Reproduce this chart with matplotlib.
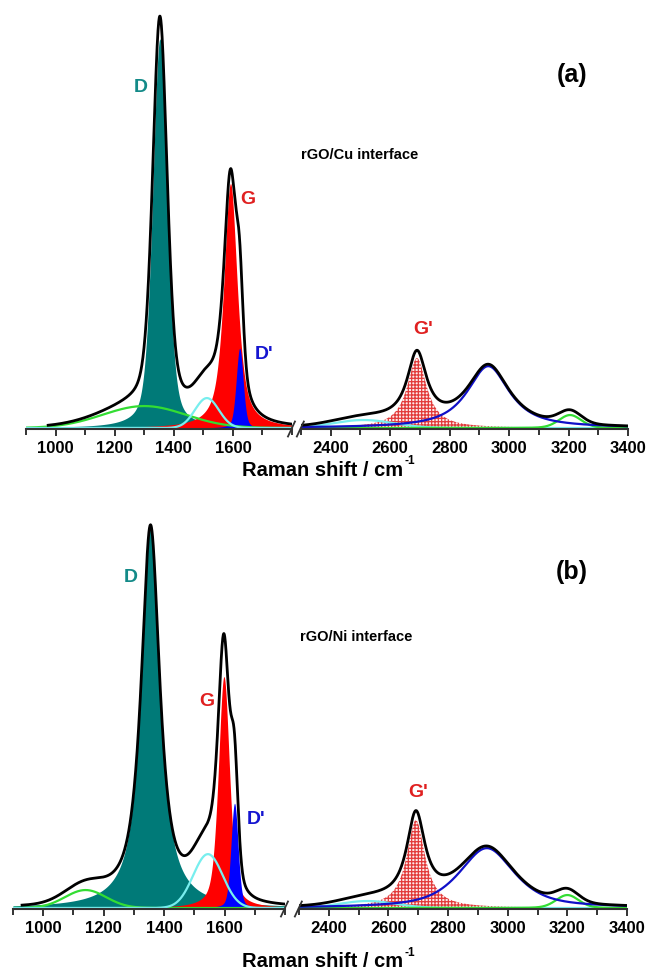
import numpy as np
import matplotlib.pyplot as plt
from matplotlib.ticker import MultipleLocator

plt.rcParams['font.family'] = ['Liberation Sans', 'DejaVu Sans']
plt.rcParams['font.weight'] = 'bold'
plt.rcParams['hatch.linewidth'] = 0.9

W, H = 651, 979

# Fitted bands.
# Each band: centre (cm-1), height (a.u.), FWHM (cm-1), Lorentzian fraction
# Low range bands, in order: D, G, D', broad green band, cyan band
a_low_center = [1353, 1592, 1623, 1300, 1512]
a_low_height = [390, 245, 80, 22, 30]
a_low_fwhm = [58, 54, 28, 330, 95]
a_low_eta = [0.4, 0.75, 0.3, 0.0, 0.0]
a_start = 975

# High range bands: G', blue (D+G), green (2D'), cyan
a_high_center = [2690, 2930, 3205, 2510]
a_high_height = [70, 62, 13, 8]
a_high_fwhm = [80, 170, 90, 240]
a_high_eta = [1.0, 0.9, 0.2, 0.0]

b_low_center = [1355, 1598, 1633, 1140, 1545]
b_low_height = [383, 232, 105, 18, 54]
b_low_fwhm = [74, 44, 28, 160, 115]
b_low_eta = [0.9, 0.5, 0.3, 0.0, 0.0]
b_start = 930

b_high_center = [2692, 2930, 3200, 2530]
b_high_height = [88, 60, 13, 7]
b_high_fwhm = [75, 220, 90, 220]
b_high_eta = [1.0, 0.7, 0.2, 0.0]

teal = '#007a78'
red = '#ff0000'
blue = '#0000ff'
green = '#33dd33'
cyan = '#77eeee'


def band(x, c, h, w, eta):
    lor = 1.0 / (1.0 + ((x - c) / (w / 2.0)) ** 2)
    gau = np.exp(-4 * np.log(2) * ((x - c) / w) ** 2)
    return h * (eta * lor + (1 - eta) * gau)


def bands(x, cs, hs, ws, es):
    return [band(x, c, h, w, e) for c, h, w, e in zip(cs, hs, ws, es)]


def style(ax, lo, hi, ymax, majors):
    ax.set_xlim(lo, hi)
    ax.set_ylim(-1, ymax)
    for s in ['left', 'right', 'top']:
        ax.spines[s].set_visible(False)
    ax.spines['bottom'].set_linewidth(1.5)
    ax.spines['bottom'].set_color('#333333')
    ax.set_yticks([])
    ax.set_xticks(majors)
    ax.xaxis.set_minor_locator(MultipleLocator(100))
    ax.tick_params(axis='x', which='major', length=5, width=1.4, labelsize=12, pad=3, color='#333333')
    ax.tick_params(axis='x', which='minor', length=4, width=1.4, color='#333333')
    ax.patch.set_alpha(0)


def panel(ax_lo, ax_hi, low, high, start, ymax):
    x1 = np.linspace(900, 1800, 1500)
    d, g, dp, gr, cy = bands(x1, *low)
    tot1 = d + g + dp + gr + cy
    ax_lo.fill_between(x1, 0, d, color=teal, lw=0)
    ax_lo.fill_between(x1, 0, g, color=red, lw=0)
    ax_lo.fill_between(x1, 0, dp, color=blue, lw=0)
    ax_lo.plot(x1, gr, color=green, lw=1.6)
    ax_lo.plot(x1, cy, color=cyan, lw=1.6)
    m = x1 >= start
    ax_lo.plot(x1[m], tot1[m], color='black', lw=2.0)

    x2 = np.linspace(2300, 3400, 1500)
    gp, bl, gr2, cy2 = bands(x2, *high)
    tot2 = gp + bl + gr2 + cy2
    ax_hi.fill_between(x2, 0, gp, facecolor='#fdeaea', edgecolor='#e23a3a', hatch='+++++', lw=0)
    ax_hi.plot(x2, cy2, color=cyan, lw=1.6)
    ax_hi.plot(x2, gr2, color=green, lw=1.6)
    ax_hi.plot(x2, bl, color='#1010c8', lw=1.6)
    ax_hi.plot(x2, tot2, color='black', lw=2.0)

    style(ax_lo, 900, 1800, ymax, [1000, 1200, 1400, 1600])
    style(ax_hi, 2300, 3400, ymax, [2400, 2600, 2800, 3000, 3200, 3400])

    # axis break marks
    for ax, xa in [(ax_lo, 1.0), (ax_hi, 0.0)]:
        tr = ax.transAxes
        dy = 7.5 / (ax.get_position().height * H)
        dx = 3.5 / (ax.get_position().width * W)
        ax.plot([xa - dx - 0.002, xa + dx - 0.002], [-dy, dy], transform=tr, color='#333333', lw=1.3, clip_on=False)


def axes_px(x0, x1, ybot, ytop):
    return [x0 / W, 1 - ybot / H, (x1 - x0) / W, (ybot - ytop) / H]


fig = plt.figure(figsize=(W / 100, H / 100), dpi=100)

ax1 = fig.add_axes(axes_px(26, 292, 430, 10))
ax2 = fig.add_axes(axes_px(301, 628, 430, 10))
panel(ax1, ax2,
      (a_low_center, a_low_height, a_low_fwhm, a_low_eta),
      (a_high_center, a_high_height, a_high_fwhm, a_high_eta), a_start, 420)

ax3 = fig.add_axes(axes_px(13, 285, 910, 500))
ax4 = fig.add_axes(axes_px(299, 627, 910, 500))
panel(ax3, ax4,
      (b_low_center, b_low_height, b_low_fwhm, b_low_eta),
      (b_high_center, b_high_height, b_high_fwhm, b_high_eta), b_start, 410)


def label(x, y, s, color='black', size=14, ha='center'):
    return fig.text(x / W, 1 - y / H, s, color=color, fontsize=size, fontweight='bold',
                    ha=ha, va='center')


renderer = fig.canvas.get_renderer()


def xlabel(y):
    t = label(323, y, 'Raman shift / cm', size=14.5)
    bb = t.get_window_extent(renderer)
    fig.text((bb.x1 + 1) / W, 1 - (y - 9) / H, '-1', fontsize=8.5, fontweight='bold',
             ha='left', va='center')


# panel (a)
label(141, 88, 'D', '#138a88')
label(248, 200, 'G', '#e02020')
label(264, 355, "D'", '#1515d0')
label(423, 330, "G'", '#e02020')
label(360, 155, 'rGO/Cu interface', size=10.5)
label(572, 75, '(a)', size=18)
xlabel(470)

# panel (b)
label(131, 578, 'D', '#138a88')
label(207, 702, 'G', '#e02020')
label(256, 820, "D'", '#1515d0')
label(418, 793, "G'", '#e02020')
label(356, 637, 'rGO/Ni interface', size=10.5)
label(572, 572, '(b)', size=18)
xlabel(962)

fig.savefig('out.png', dpi=100)
